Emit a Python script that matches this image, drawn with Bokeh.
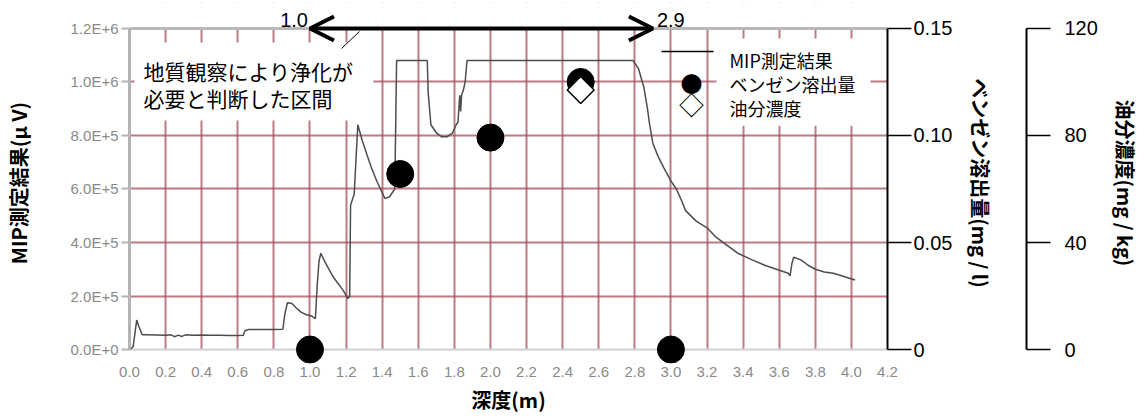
import math
from bokeh.plotting import figure
from bokeh.models import (Range1d, LinearAxis, FixedTicker, Label, Arrow, OpenHead,
                          Span, BoxAnnotation)
from bokeh.embed import file_html
from bokeh.resources import INLINE

# ---------------- data ----------------
DEPTH = [0.00, 0.02, 0.04, 0.05, 0.07, 0.10, 0.15, 0.20, 0.23, 0.25, 0.27, 0.29, 0.31,
         0.35, 0.40, 0.45, 0.50, 0.55, 0.60, 0.63, 0.64, 0.66, 0.70, 0.75, 0.80, 0.85,
         0.86, 0.875, 0.90, 0.92, 0.95, 0.98, 1.01, 1.03, 1.04, 1.05, 1.06, 1.085,
         1.13, 1.185, 1.21, 1.22, 1.225, 1.245, 1.265, 1.29, 1.315, 1.34, 1.37, 1.415,
         1.44, 1.47, 1.48, 1.65, 1.655, 1.67, 1.70, 1.73, 1.76, 1.79, 1.81, 1.82, 1.83,
         1.835, 1.84, 1.85, 1.86, 1.87, 2.79, 2.82, 2.85, 2.87, 2.88, 2.90, 2.93, 2.96,
         3.00, 3.03, 3.06, 3.08, 3.14, 3.20, 3.25, 3.30, 3.37, 3.45, 3.52, 3.60, 3.65,
         3.66, 3.67, 3.68, 3.72, 3.76, 3.80, 3.85, 3.90, 3.95, 4.02]
MIP = [0, 1.0e4, 1.1e5, 9.0e4, 5.5e4, 5.5e4, 5.4e4, 5.3e4, 5.5e4, 4.8e4, 5.4e4, 4.9e4, 5.5e4,
       5.3e4, 5.4e4, 5.3e4, 5.3e4, 5.2e4, 5.2e4, 5.3e4, 7.0e4, 7.5e4, 7.5e4, 7.5e4, 7.5e4, 7.6e4,
       1.3e5, 1.75e5, 1.72e5, 1.58e5, 1.40e5, 1.30e5, 1.25e5, 1.15e5, 2.4e5, 3.3e5, 3.6e5, 3.25e5,
       2.7e5, 2.2e5, 1.9e5, 2.0e5, 5.4e5, 5.8e5, 8.4e5, 7.8e5, 7.3e5, 6.8e5, 6.3e5, 5.65e5,
       5.7e5, 6.0e5, 1.08e6, 1.08e6, 9.6e5, 8.4e5, 8.1e5, 7.95e5, 7.95e5, 8.1e5, 8.4e5, 8.5e5, 9.5e5,
       8.9e5, 9.5e5, 9.7e5, 1.0e6, 1.08e6, 1.08e6, 1.05e6, 9.8e5, 9.0e5, 8.5e5, 7.7e5, 7.2e5, 6.8e5,
       6.3e5, 6.0e5, 5.55e5, 5.2e5, 4.8e5, 4.55e5, 4.2e5, 3.95e5, 3.6e5, 3.35e5, 3.15e5, 2.96e5, 2.85e5,
       2.75e5, 3.2e5, 3.45e5, 3.35e5, 3.15e5, 3.0e5, 2.9e5, 2.85e5, 2.75e5, 2.6e5]

SAMPLE_DEPTH = [1.0, 1.5, 2.0, 2.5, 3.0]
BENZENE = [0.0, 0.082, 0.099, 0.125, 0.0]
OIL_DEPTH = [2.5]
OIL = [97.0]

X_TICKS = [0.0, 0.2, 0.4, 0.6, 0.8, 1.0, 1.2, 1.4, 1.6, 1.8, 2.0, 2.2, 2.4, 2.6, 2.8, 3.0,
           3.2, 3.4, 3.6, 3.8, 4.0, 4.2]
X_TICK_LABELS = ["0.0", "0.2", "0.4", "0.6", "0.8", "1.0", "1.2", "1.4", "1.6", "1.8", "2.0",
                 "2.2", "2.4", "2.6", "2.8", "3.0", "3.2", "3.4", "3.6", "3.8", "4.0", "4.2"]
MIP_TICKS = [0, 200000, 400000, 600000, 800000, 1000000, 1200000]
MIP_TICK_LABELS = ["0.0E+0", "2.0E+5", "4.0E+5", "6.0E+5", "8.0E+5", "1.0E+6", "1.2E+6"]
BENZ_TICKS = [0.0, 0.05, 0.10, 0.15]
BENZ_TICK_LABELS = ["0", "0.05", "0.10", "0.15"]
OIL_TICKS = [0, 40, 80, 120]
OIL_TICK_LABELS = ["0", "40", "80", "120"]

ZONE = [1.0, 2.9]
ZONE_TEXT = "地質観察により浄化が\n必要と判断した区間"
LEGEND_LABELS = ["MIP測定結果", "ベンゼン溶出量", "油分濃度"]

X_LABEL = "深度(m)"
Y_LABEL = "MIP測定結果(μ V)"
BENZ_LABEL = "ベンゼン溶出量(mg / l)"
OIL_LABEL = "油分濃度(mg / kg)"

# ---------------- layout ----------------
W, H = 1144, 416
F_LEFT, F_TOP, F_BOTTOM, F_RIGHT = 128, 2, 364, 887
TOP_PX, ZERO_PX = 28, 350          # canvas y of the top value and of zero
MIP_MAX = MIP_TICKS[-1]
lo_frac = (F_BOTTOM - ZERO_PX) / (ZERO_PX - TOP_PX)
hi_frac = (TOP_PX - F_TOP) / (ZERO_PX - TOP_PX)

JP = "Noto Sans CJK JP"
LAT = "Liberation Sans"


def rng(top):
    return Range1d(-lo_frac * top, top * (1 + hi_frac))


p = figure(width=W, height=H, x_range=Range1d(X_TICKS[0], X_TICKS[-1]),
           y_range=rng(MIP_MAX),
           output_backend="svg", toolbar_location=None,
           min_border_left=F_LEFT, min_border_top=F_TOP,
           min_border_bottom=H - F_BOTTOM, min_border_right=W - F_RIGHT)
p.outline_line_color = None
p.background_fill_color = "white"
p.border_fill_color = "white"

p.extra_y_ranges = {"benz": rng(BENZ_TICKS[-1]), "oil": rng(OIL_TICKS[-1])}

# grid
GRID = "#a64f5c"
p.xgrid.ticker = FixedTicker(ticks=X_TICKS)
p.ygrid.ticker = FixedTicker(ticks=MIP_TICKS[1:-1])
for g in (p.xgrid, p.ygrid):
    g.grid_line_color = GRID
    g.grid_line_width = 2
    g.grid_line_alpha = 0.75

# keep grid inside the value box
p.add_layout(BoxAnnotation(top=MIP_TICKS[0], fill_color="white", fill_alpha=1.0,
                           line_color=None, level="underlay"))
p.add_layout(BoxAnnotation(bottom=MIP_MAX, fill_color="white", fill_alpha=1.0,
                           line_color=None, level="underlay"))
p.add_layout(Span(location=MIP_TICKS[0], dimension="width", line_color="#d0d0d0",
                  line_width=2, level="underlay"))
p.add_layout(Span(location=MIP_MAX, dimension="width", line_color="#b8b8b8",
                  line_width=3, level="underlay"))

# bottom axis
xa = p.xaxis[0]
xa.ticker = FixedTicker(ticks=X_TICKS)
xa.major_label_overrides = dict(zip(X_TICKS, X_TICK_LABELS))
xa.axis_line_color = None
xa.major_tick_out = 0
xa.major_tick_in = 0
xa.minor_tick_out = 0
xa.minor_tick_in = 0
xa.major_label_standoff = 3
xa.major_label_text_font = LAT
xa.major_label_text_font_size = "15px"
xa.major_label_text_color = "#8a8a8a"
xa.axis_label = X_LABEL
xa.axis_label_text_font = JP
xa.axis_label_text_font_size = "20px"
xa.axis_label_text_font_style = "bold"
xa.axis_label_text_color = "black"
xa.axis_label_standoff = 5

# left axis
ya = p.yaxis[0]
ya.ticker = FixedTicker(ticks=MIP_TICKS)
ya.major_label_overrides = dict(zip(MIP_TICKS, MIP_TICK_LABELS))
ya.bounds = (MIP_TICKS[0], MIP_MAX)
ya.axis_line_color = "#b4b4b4"
ya.axis_line_width = 3
ya.major_tick_out = 8
ya.major_tick_in = 0
ya.major_tick_line_color = "#b4b4b4"
ya.major_tick_line_width = 2
ya.minor_tick_out = 0
ya.minor_tick_in = 0
ya.major_label_standoff = 3
ya.major_label_text_font = LAT
ya.major_label_text_font_size = "15px"
ya.major_label_text_color = "#8a8a8a"
ya.axis_label = Y_LABEL
ya.axis_label_text_font = JP
ya.axis_label_text_font_size = "20px"
ya.axis_label_text_font_style = "bold"
ya.axis_label_text_color = "black"
ya.axis_label_standoff = 35


def right_axis(rname, ticks, labels, title, tick_out, lab_standoff, title_standoff):
    ax = LinearAxis(y_range_name=rname, ticker=FixedTicker(ticks=ticks),
                    bounds=(ticks[0], ticks[-1]))
    ax.major_label_overrides = dict(zip(ticks, labels))
    ax.axis_line_color = "black"
    ax.axis_line_width = 2
    ax.major_tick_out = tick_out
    ax.major_tick_in = 0
    ax.major_tick_line_color = "black"
    ax.major_tick_line_width = 1.5
    ax.minor_tick_out = 0
    ax.minor_tick_in = 0
    ax.major_label_standoff = lab_standoff
    ax.major_label_text_font = LAT
    ax.major_label_text_font_size = "20px"
    ax.major_label_text_color = "black"
    ax.axis_label = title
    ax.axis_label_text_font = JP
    ax.axis_label_text_font_size = "20px"
    ax.axis_label_text_font_style = "bold"
    ax.axis_label_text_color = "black"
    ax.axis_label_standoff = title_standoff
    return ax


p.add_layout(right_axis("benz", BENZ_TICKS, BENZ_TICK_LABELS, BENZ_LABEL, 24, 2, 11), "right")
spacer = LinearAxis(y_range_name="benz", ticker=FixedTicker(ticks=[]), axis_line_color=None,
                    major_tick_out=0, major_tick_in=0, minor_tick_out=0, minor_tick_in=0,
                    axis_label=" ", axis_label_text_font_size="10px", axis_label_standoff=14)
p.add_layout(spacer, "right")
p.add_layout(right_axis("oil", OIL_TICKS, OIL_TICK_LABELS, OIL_LABEL, 24, 14, 10), "right")

# data
p.line(DEPTH, MIP, line_color="#4d4d4d", line_width=1.5)
p.scatter(SAMPLE_DEPTH, BENZENE, y_range_name="benz", size=27, fill_color="black",
          line_color="black")
p.scatter(OIL_DEPTH, OIL, y_range_name="oil", marker="square", angle=math.pi / 4, size=19,
          fill_color="white", line_color="black", line_width=1.5)


# ---------------- annotations (screen units, relative to the frame) ----------------
def sx(px):
    return px - F_LEFT


def sy(py):
    return F_BOTTOM - py


# zone arrow
p.add_layout(Arrow(x_start=ZONE[0], x_end=ZONE[1], y_start=MIP_MAX, y_end=MIP_MAX,
                   line_color="black", line_width=4,
                   start=OpenHead(size=24, line_width=4, line_color="black"),
                   end=OpenHead(size=24, line_width=4, line_color="black")))
p.add_layout(Label(x=ZONE[0], y=MIP_MAX, text=f"{ZONE[0]:.1f}", text_align="right",
                   text_baseline="middle", x_offset=-2, y_offset=8, text_font=LAT,
                   text_font_size="20px", text_color="black"))
p.add_layout(Label(x=ZONE[1], y=MIP_MAX, text=f"{ZONE[1]:.1f}", text_align="left",
                   text_baseline="middle", x_offset=4, y_offset=8, text_font=LAT,
                   text_font_size="20px", text_color="black"))

# zone note (anchor = top-left corner of the white box)
p.add_layout(Label(x=sx(133), y=sy(43), x_units="screen", y_units="screen", text=ZONE_TEXT,
                   text_align="left", text_baseline="top", text_font=JP,
                   text_font_size="21px", text_line_height=0.9, text_color="black",
                   background_fill_color="white", background_fill_alpha=1.0,
                   padding={"left": 9, "right": 20, "top": 13, "bottom": 8}))
p.add_layout(Arrow(x_start=sx(340), y_start=sy(49), x_end=sx(358), y_end=sy(32),
                   start_units="screen", end_units="screen", start=None, end=None,
                   line_color="black", line_width=1))

# legend (anchor = top-left corner of the white box)
p.add_layout(Label(x=sx(715), y=sy(39), x_units="screen", y_units="screen",
                   text="\n".join(LEGEND_LABELS), text_align="left", text_baseline="top",
                   text_font=JP, text_font_size="18px", text_line_height=0.93,
                   text_color="black", background_fill_color="white",
                   background_fill_alpha=1.0,
                   padding={"left": 13, "right": 15, "top": 8, "bottom": 5}))
p.add_layout(Arrow(x_start=sx(660), y_start=sy(52), x_end=sx(712), y_end=sy(52),
                   start_units="screen", end_units="screen", start=None, end=None,
                   line_color="black", line_width=1.5))
p.add_layout(Label(x=sx(690), y=sy(82), x_units="screen", y_units="screen", text="●",
                   text_align="center", text_baseline="middle", text_font=JP,
                   text_font_size="22px", text_color="black"))
p.add_layout(Label(x=sx(690), y=sy(104), x_units="screen", y_units="screen", text="◇",
                   text_align="center", text_baseline="middle", text_font=JP,
                   text_font_size="25px", text_color="black"))

open("out.html", "w").write(file_html(p, INLINE))
